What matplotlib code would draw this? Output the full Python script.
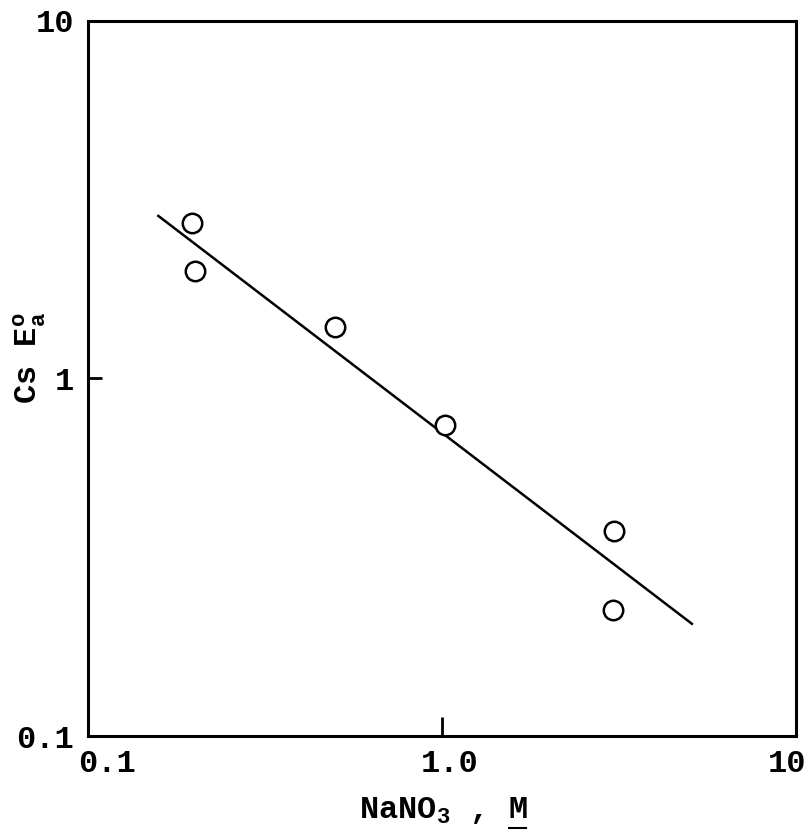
import matplotlib
matplotlib.use("Agg")
import matplotlib.pyplot as plt
from matplotlib.lines import Line2D
from matplotlib.transforms import ScaledTranslation

# data
nano3 = [0.197, 0.200, 0.50, 1.02, 3.06, 3.04]
cs_ea = [2.72, 2.00, 1.39, 0.74, 0.374, 0.225]
fit_x = [0.158, 5.08]
fit_y = [2.85, 0.206]
xticks = [0.1, 1.0, 10]
xticklabels = ["0.1", "1.0", "10"]
yticks = [0.1, 1, 10]
yticklabels = ["0.1", "1", "10"]

plt.rcParams['font.family'] = ['Liberation Mono', 'DejaVu Sans']
plt.rcParams['font.weight'] = 'bold'
plt.rcParams['mathtext.fontset'] = 'custom'
plt.rcParams['mathtext.rm'] = 'Liberation Mono:bold'
plt.rcParams['mathtext.it'] = 'Liberation Mono:bold'
plt.rcParams['mathtext.bf'] = 'Liberation Mono:bold'

FS = 23
W, H = 811, 834
fig = plt.figure(figsize=(W / 100, H / 100), dpi=100)
ax = fig.add_axes([88/W, 1-736/H, (796-88)/W, (736-21)/H])
ax.set_xscale('log')
ax.set_yscale('log')
ax.set_xlim(0.1, 10)
ax.set_ylim(0.1, 10)

ax.plot(fit_x, fit_y, color='black', lw=1.8, zorder=2)
ax.plot(nano3, cs_ea, linestyle='none', marker='o', markersize=14,
        markerfacecolor='white', markeredgecolor='black', markeredgewidth=1.8, zorder=3)

ax.xaxis.set_minor_locator(matplotlib.ticker.NullLocator())
ax.yaxis.set_minor_locator(matplotlib.ticker.NullLocator())
ax.set_xticks(xticks)
ax.set_xticklabels(xticklabels)
ax.set_yticks(yticks)
ax.set_yticklabels(yticklabels)
ax.tick_params(axis='x', direction='in', length=14, width=2, pad=9, labelsize=FS)
ax.tick_params(axis='y', direction='in', length=10, width=2, pad=10, labelsize=FS)
for s in ax.spines.values():
    s.set_linewidth(2.2)

# shift x tick labels as in the reference (pixel offsets)
offsets_px = [19, 8, -9]
for lab, dx in zip(ax.get_xticklabels(), offsets_px):
    lab.set_transform(lab.get_transform() + ScaledTranslation(dx / 100, 0, fig.dpi_scale_trans))

# x label with underlined M
xl = fig.text(443 / W, 1 - 810 / H, "NaNO$_3$ , M",
              ha='center', va='center', fontsize=FS)
# y label
fig.text(30 / W, 1 - 358 / H, r"Cs E$\mathrm{_a^o}$", rotation=90,
         ha='center', va='center', fontsize=FS)

fig.canvas.draw()
r = fig.canvas.get_renderer()
bb = xl.get_window_extent(r)
tm = fig.text(0, 0, "M", fontsize=FS)
mb = tm.get_window_extent(r)
tm.remove()
w = mb.width
x1 = bb.x1 - 1
x0 = x1 - w + 2
yline = bb.y0 - 2
fig.add_artist(Line2D([x0 / W, x1 / W], [yline / H, yline / H],
                      transform=fig.transFigure, color='black', lw=1.5))

fig.savefig("out.png", dpi=100)
